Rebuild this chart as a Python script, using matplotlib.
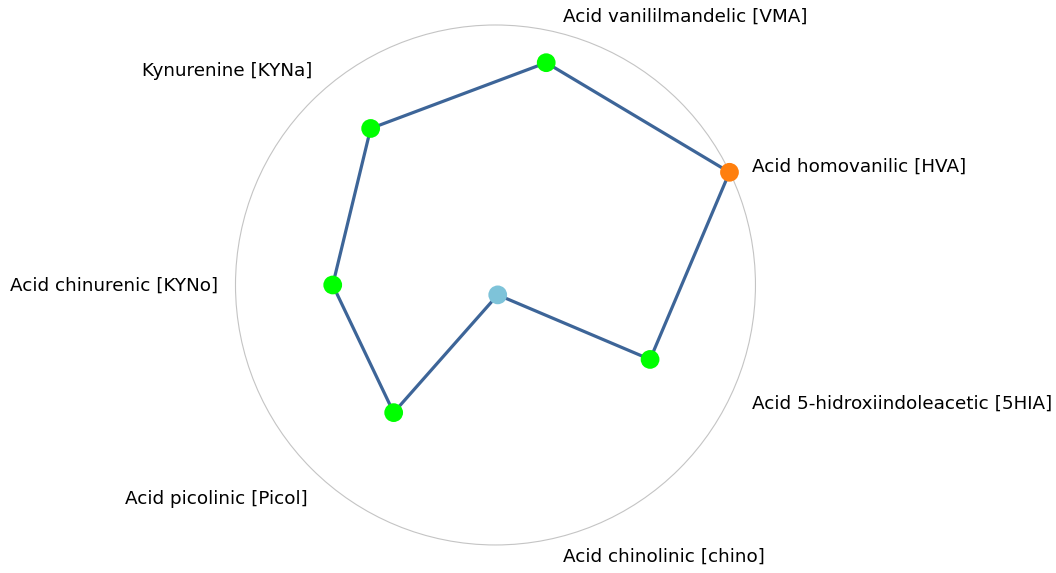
import numpy as np
import matplotlib
matplotlib.use("Agg")
import matplotlib.pyplot as plt
from matplotlib.patches import Circle

categories = [
    "Acid vanililmandelic [VMA]",
    "Acid homovanilic [HVA]",
    "Acid 5-hidroxiindoleacetic [5HIA]",
    "Acid chinolinic [chino]",
    "Acid picolinic [Picol]",
    "Acid chinurenic [KYNo]",
    "Kynurenine [KYNa]",
]
values = [0.877, 0.999, 0.660, 0.039, 0.628, 0.626, 0.770]
point_colors = ["#00ff00", "#ff7f0e", "#00ff00", "#7ec3d9", "#00ff00", "#00ff00", "#00ff00"]

# label pixel nudges (layout only)
label_dx = [6, 9, 9, 6, -17, -3, -12]
label_dy = [1, -1, 0, -4, 0, -1, 0]

n = len(categories)
angles = np.pi / n / 2 + 2 * np.pi * np.arange(n) / n

fig = plt.figure(figsize=(10.56, 5.73), dpi=100)
ax = fig.add_axes([0.2230, 0.0489, 0.4924, 0.9075], projection="polar")
ax.set_theta_zero_location("N")
ax.set_theta_direction(-1)
ax.set_ylim(0, 1.0)
ax.axis("off")
ax.add_artist(Circle((0.5, 0.5), 0.5, transform=ax.transAxes, fill=False,
                     edgecolor="#c4c4c4", linewidth=0.8, zorder=1, clip_on=False))

closed_a = np.append(angles, angles[0])
closed_v = np.append(values, values[0])
ax.plot(closed_a, closed_v, color="#3d6598", linewidth=2.3, zorder=2, clip_on=False)
ax.scatter(angles, values, s=13.5**2, c=point_colors, zorder=3, linewidths=0, clip_on=False)

for a, lab, dx, dy in zip(angles, categories, label_dx, label_dy):
    s = np.sin(a)
    ha = "left" if s > 0.01 else ("right" if s < -0.01 else "center")
    ax.annotate(lab, xy=(a, 1.055), xytext=(dx, dy), textcoords="offset pixels",
                ha=ha, va="center", fontsize=13.2, family="DejaVu Sans",
                color="#000000", annotation_clip=False)

fig.savefig("out.png", dpi=100)
